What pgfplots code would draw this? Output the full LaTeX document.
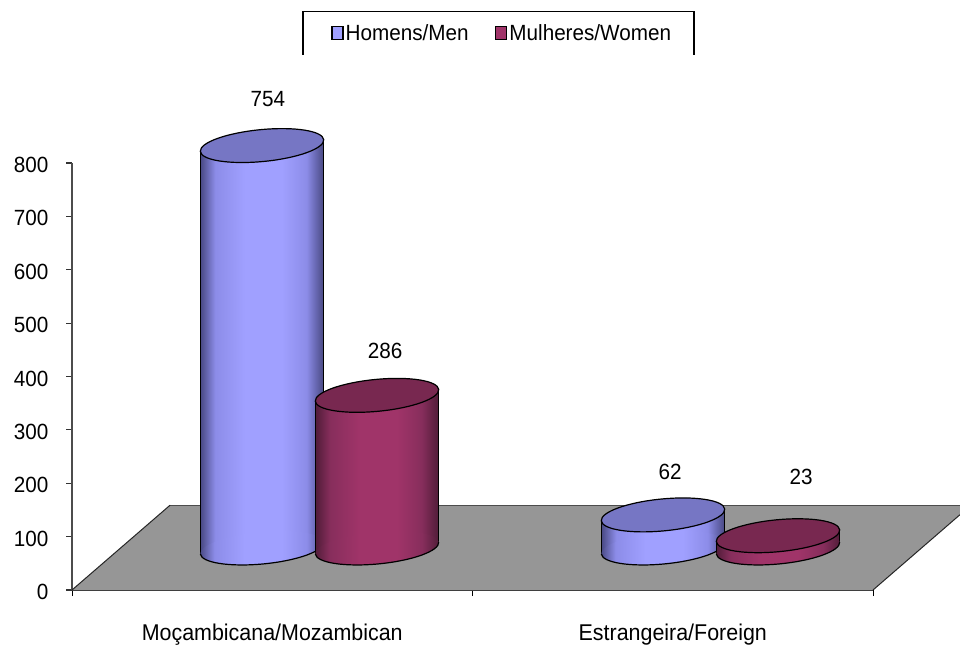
\documentclass[border=0pt]{standalone}
\usepackage{fontspec}
\setmainfont{Liberation Sans}[FakeStretch=0.94]
\usepackage{pgfplots}
\pgfplotsset{compat=1.18}

\definecolor{blueTop}{RGB}{118,118,196}
\definecolor{blueEdge}{RGB}{72,72,130}
\definecolor{blueMid}{RGB}{140,140,232}
\definecolor{blueLight}{RGB}{160,160,255}
\definecolor{redTop}{RGB}{120,40,80}
\definecolor{redEdge}{RGB}{80,28,56}
\definecolor{redMid}{RGB}{135,46,92}
\definecolor{redLight}{RGB}{160,52,105}
\definecolor{floorGray}{RGB}{150,150,150}

\pgfdeclarehorizontalshading{cylBlue}{100bp}{color(0bp)=(blueEdge); color(25bp)=(blueEdge); color(31bp)=(blueMid); color(43bp)=(blueLight); color(58bp)=(blueLight); color(68bp)=(blueMid); color(75bp)=(blueEdge); color(100bp)=(blueEdge)}
\pgfdeclarehorizontalshading{cylRed}{100bp}{color(0bp)=(redEdge); color(25bp)=(redEdge); color(31bp)=(redMid); color(43bp)=(redLight); color(58bp)=(redLight); color(68bp)=(redMid); color(75bp)=(redEdge); color(100bp)=(redEdge)}

% tilted ellipse of the cylinders as beziers, 1pt = 1px of the reference
\newcommand{\lowerhalf}{(-61.7pt,-5.9pt) .. controls (-60.87pt,-14.68pt) and (-32.6pt,-19.16pt) .. (1.5pt,-15.9pt) .. controls (35.6pt,-12.64pt) and (62.53pt,-2.88pt) .. (61.7pt,5.9pt)}
\newcommand{\upperhalf}{.. controls (60.87pt,14.68pt) and (32.6pt,19.16pt) .. (-1.5pt,15.9pt) .. controls (-35.6pt,12.64pt) and (-62.53pt,2.88pt) .. (-61.7pt,-5.9pt) -- cycle}
\pgfdeclareplotmark{baseBlue}{%
  \path[draw=none, shade, shading=cylBlue] \lowerhalf \upperhalf;
  \draw[black, line width=1.2pt] \lowerhalf;
}
\pgfdeclareplotmark{baseRed}{%
  \path[draw=none, shade, shading=cylRed] \lowerhalf \upperhalf;
  \draw[black, line width=1.2pt] \lowerhalf;
}
\pgfdeclareplotmark{topBlue}{\draw[black, line width=1.2pt, fill=blueTop] \lowerhalf \upperhalf;}
\pgfdeclareplotmark{topRed}{\draw[black, line width=1.2pt, fill=redTop] \lowerhalf \upperhalf;}

% cylinders stand in the middle of the floor: same scales, shifted axis
\pgfplotsset{cyl axis/.style={
  at={(48pt,42pt)}, anchor=origin,
  scale only axis, width=801pt, height=427pt,
  xmin=0, xmax=2, ymin=0, ymax=800,
  clip=false, hide axis,
}}

\begin{document}
\begin{tikzpicture}
  \path[use as bounding box] (-72pt,-58pt) rectangle (888pt,590pt);

  % main axis with the floor of the 3D plot
  \begin{axis}[
    at={(0pt,0pt)}, anchor=origin,
    scale only axis, width=801pt, height=427pt,
    xmin=0, xmax=2, ymin=0, ymax=800,
    clip=false,
    axis x line*=bottom, axis y line*=left,
    x axis line style={-, line width=2.5pt, draw=black!80},
    y axis line style={-, line width=1.2pt, draw=black!70},
    xtick={0,1,2}, x tick label as interval,
    xticklabels={Moçambicana/Mozambican, Estrangeira/Foreign},
    ytick={0,100,...,800},
    tick align=outside,
    major tick length=6pt,
    xtick style={black, line width=0.8pt},
    ytick style={black!80, line width=1.2pt},
    tick label style={font=\fontsize{22}{24}\selectfont},
    /pgf/number format/assume math mode=true,
    xticklabel style={yshift=-24pt, font=\fontsize{22.8}{25}\selectfont},
    yticklabel style={xshift=-14pt, yshift=-2pt},
    legend columns=2,
    legend cell align=left,
    legend style={at={(axis description cs:0.5368,1.3044)}, anchor=center, draw=none, fill=none,
      font=\fontsize{22}{24}\selectfont, inner sep=0pt,
      /tikz/every even column/.append style={column sep=24pt}},
    legend image code/.code={\draw[#1] (0pt,-6.5pt) rectangle (11pt,6.5pt);},
  ]
    \addplot[floorGray, fill=floorGray, draw=none, forget plot] coordinates
      {(0,0) (0.245,159) (2.217,159) (2.217,141) (2,0)} -- cycle;
    \addplot[black!70, line width=1pt, forget plot] coordinates {(0.245,159) (2.217,159)};
    \addplot[black!85, line width=1pt, forget plot] coordinates {(0,0) (0.245,159)};
    \addplot[black!85, line width=1pt, forget plot] coordinates {(2,0) (2.217,141)};

    \addlegendimage{black, fill=blueLight, line width=1.8pt}
    \addlegendentry{Homens/Men}
    \addlegendimage{black, fill=redLight, line width=1.8pt}
    \addlegendentry{Mulheres/Women}
  \end{axis}

  % legend frame, open at the bottom
  \draw[black, line width=1.5pt] (231pt,535pt) -- (231pt,578.5pt) -- (622pt,578.5pt) -- (622pt,535pt);

  % body corners are value -+11 because the ellipses are tilted
  % Homens/Men
  \begin{axis}[cyl axis]
    % Mocambicana: 754
    \addplot[draw=none, shading=cylBlue, forget plot] coordinates
      {(0.2005,743) (0.5087,765) (0.5087,11) (0.2005,-11)} -- cycle;
    \addplot[black, line width=1.2pt, forget plot] coordinates {(0.2005,743) (0.2005,-11)};
    \addplot[black, line width=1.2pt, forget plot] coordinates {(0.5087,765) (0.5087,11)};
    \addplot[only marks, mark=baseBlue, forget plot] coordinates {(0.3546,0)};
    \addplot[only marks, mark=topBlue, forget plot] coordinates {(0.3546,754)};
    % Estrangeira: 62
    \addplot[draw=none, shading=cylBlue, forget plot] coordinates
      {(1.2017,51) (1.5099,73) (1.5099,11) (1.2017,-11)} -- cycle;
    \addplot[black, line width=1.2pt, forget plot] coordinates {(1.2017,51) (1.2017,-11)};
    \addplot[black, line width=1.2pt, forget plot] coordinates {(1.5099,73) (1.5099,11)};
    \addplot[only marks, mark=baseBlue, forget plot] coordinates {(1.3558,0)};
    \addplot[only marks, mark=topBlue, forget plot] coordinates {(1.3558,62)};
  \end{axis}

  % Mulheres/Women, in its own axis so it really lies over the blue marks
  \begin{axis}[cyl axis]
    % Mocambicana: 286
    \addplot[draw=none, shading=cylRed, forget plot] coordinates
      {(0.4876,275) (0.7958,297) (0.7958,11) (0.4876,-11)} -- cycle;
    \addplot[black, line width=1.2pt, forget plot] coordinates {(0.4876,275) (0.4876,-11)};
    \addplot[black, line width=1.2pt, forget plot] coordinates {(0.7958,297) (0.7958,11)};
    \addplot[only marks, mark=baseRed, forget plot] coordinates {(0.6417,0)};
    \addplot[only marks, mark=topRed, forget plot] coordinates {(0.6417,286)};
    % Estrangeira: 23
    \addplot[draw=none, shading=cylRed, forget plot] coordinates
      {(1.4888,12) (1.7970,34) (1.7970,11) (1.4888,-11)} -- cycle;
    \addplot[black, line width=1.2pt, forget plot] coordinates {(1.4888,12) (1.4888,-11)};
    \addplot[black, line width=1.2pt, forget plot] coordinates {(1.7970,34) (1.7970,11)};
    \addplot[only marks, mark=baseRed, forget plot] coordinates {(1.6429,0)};
    \addplot[only marks, mark=topRed, forget plot] coordinates {(1.6429,23)};

    \node[font=\fontsize{22}{24}\selectfont] at (axis cs:0.3695,841.2) {754};
    \node[font=\fontsize{22}{24}\selectfont] at (axis cs:0.6617,369.1) {286};
    \node[font=\fontsize{22}{24}\selectfont] at (axis cs:1.3733,142.4) {62};
    \node[font=\fontsize{22}{24}\selectfont] at (axis cs:1.7004,133) {23};
  \end{axis}
\end{tikzpicture}
\end{document}
